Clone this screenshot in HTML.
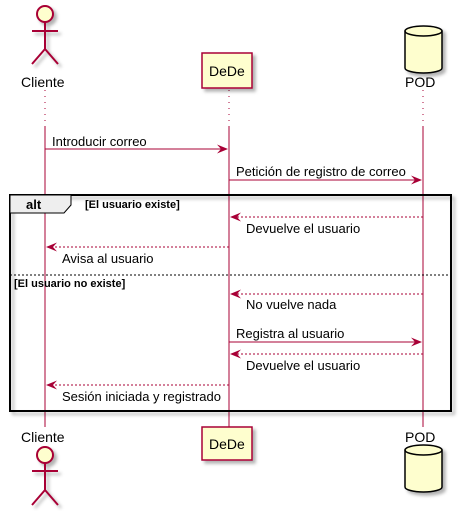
<!DOCTYPE html>
<html><head><meta charset="utf-8"><style>body{margin:0;background:#fff}svg{display:block}text{font-family:"Liberation Sans",sans-serif}</style></head>
<body>
<svg width="464" height="511" viewBox="0 0 464 511" xmlns="http://www.w3.org/2000/svg">
<defs>
<filter id="sh" x="-20%" y="-20%" width="150%" height="150%"><feDropShadow dx="3" dy="3" stdDeviation="1.5" flood-color="#000" flood-opacity="0.3"/></filter>
</defs>
<g stroke="#A80036" stroke-width="1">
<line x1="45" y1="90" x2="45" y2="127" stroke-dasharray="1,5"/>
<line x1="229" y1="90" x2="229" y2="127" stroke-dasharray="1,5"/>
<line x1="423" y1="90" x2="423" y2="127" stroke-dasharray="1,5"/>
<line x1="45" y1="127" x2="45" y2="427"/>
<line x1="229" y1="127" x2="229" y2="427"/>
<line x1="423" y1="127" x2="423" y2="427"/>
</g>
<rect x="10" y="195" width="441" height="216" fill="none" stroke="#000" stroke-width="2" filter="url(#sh)"/>
<path d="M10 195 H71 V205 L64 213 H10 Z" fill="#eee" stroke="#000" stroke-width="1"/>
<text x="26" y="209" font-size="13" font-weight="bold">alt</text>
<text x="85" y="208" font-size="11" font-weight="bold">[El usuario existe]</text>
<line x1="10" y1="275" x2="451" y2="275" stroke="#000" stroke-dasharray="2,2"/>
<text x="14" y="287" font-size="11" font-weight="bold">[El usuario no existe]</text>
<g fill="#FEFECE" stroke="#A80036" stroke-width="2" filter="url(#sh)">
<circle cx="45" cy="14" r="8"/>
<path d="M45 22 V49 M32 31 H58 M45 49 L32 64 M45 49 L58 64" fill="none"/>
<rect x="202" y="53" width="50" height="35" stroke-width="1.5"/>
<circle cx="45" cy="455" r="8"/>
<path d="M45 463 V490 M32 471 H58 M45 490 L32 505 M45 490 L58 505" fill="none"/>
<rect x="202" y="427" width="50" height="33" stroke-width="1.5"/>
</g>
<g fill="#FEFECE" stroke="#000" stroke-width="1.5" filter="url(#sh)">
<path d="M405 31 A18.5 5 0 0 1 442 31 V68 A18.5 5 0 0 1 405 68 Z"/>
<path d="M405 31 A18.5 5 0 0 0 442 31" fill="none"/>
<path d="M405 450 A18.5 5 0 0 1 442 450 V487 A18.5 5 0 0 1 405 487 Z"/>
<path d="M405 450 A18.5 5 0 0 0 442 450" fill="none"/>
</g>
<g font-size="14" fill="#000">
<text x="21" y="87">Cliente</text>
<text x="209" y="76">DeDe</text>
<text x="405" y="87">POD</text>
<text x="21" y="442">Cliente</text>
<text x="209" y="449">DeDe</text>
<text x="405" y="442">POD</text>
</g>
<g stroke="#A80036" stroke-width="1" fill="none">
<line x1="45" y1="149" x2="227" y2="149"/>
<line x1="229" y1="180" x2="421" y2="180"/>
<line x1="423" y1="217" x2="231" y2="217" stroke-dasharray="2,2"/>
<line x1="229" y1="247" x2="47" y2="247" stroke-dasharray="2,2"/>
<line x1="423" y1="294" x2="231" y2="294" stroke-dasharray="2,2"/>
<line x1="229" y1="342" x2="421" y2="342"/>
<line x1="423" y1="354" x2="231" y2="354" stroke-dasharray="2,2"/>
<line x1="229" y1="385" x2="47" y2="385" stroke-dasharray="2,2"/>
</g>
<g fill="#A80036">
<path d="M228 149 L217 144.5 L221 149 L217 153.5 Z"/>
<path d="M422 180 L411 175.5 L415 180 L411 184.5 Z"/>
<path d="M230 217 L241 212.5 L237 217 L241 221.5 Z"/>
<path d="M46 247 L57 242.5 L53 247 L57 251.5 Z"/>
<path d="M230 294 L241 289.5 L237 294 L241 298.5 Z"/>
<path d="M422 342 L411 337.5 L415 342 L411 346.5 Z"/>
<path d="M230 354 L241 349.5 L237 354 L241 358.5 Z"/>
<path d="M46 385 L57 380.5 L53 385 L57 389.5 Z"/>
</g>
<g font-size="13" fill="#000">
<text x="52" y="146">Introducir correo</text>
<text x="236" y="176">Petición de registro de correo</text>
<text x="246" y="233">Devuelve el usuario</text>
<text x="62" y="263">Avisa al usuario</text>
<text x="246" y="309">No vuelve nada</text>
<text x="236" y="338">Registra al usuario</text>
<text x="246" y="370">Devuelve el usuario</text>
<text x="62" y="401">Sesión iniciada y registrado</text>
</g>
</svg>
</body></html>
